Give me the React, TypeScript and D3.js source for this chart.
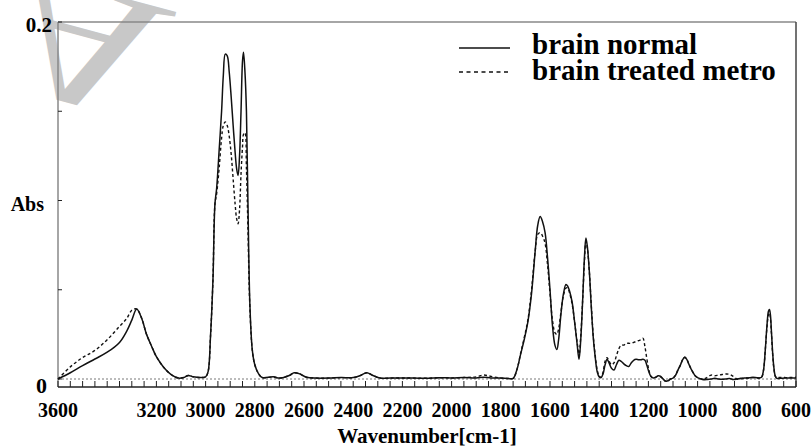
import React from "react";
import * as d3 from "d3";

// Wavenumber grid (cm-1), shared by both spectra
const wavenumbers = [
  3600, 3550, 3500, 3450, 3400, 3350, 3320, 3300, 3280, 3260, 3240, 3220, 3200, 3170, 3140, 3110, 3090, 3070, 3050, 3020,
  3000, 2990, 2980, 2970, 2962, 2955, 2945, 2935, 2928, 2920, 2912, 2904, 2896, 2888, 2880, 2874, 2868, 2862, 2856, 2850,
  2846, 2840, 2834, 2828, 2820, 2810, 2800, 2785, 2770, 2725, 2700, 2660, 2640, 2620, 2590, 2550, 2500, 2450, 2400, 2370,
  2345, 2320, 2290, 2250, 2200, 2150, 2100, 2050, 2000, 1950, 1900, 1870, 1840, 1800, 1770, 1750, 1735, 1720, 1705, 1690,
  1675, 1660, 1650, 1640, 1630, 1620, 1610, 1600, 1590, 1580, 1572, 1565, 1555, 1545, 1535, 1528, 1520, 1510, 1500, 1490,
  1482, 1475, 1467, 1460, 1454, 1448, 1440, 1432, 1424, 1416, 1408, 1400, 1392, 1384, 1376, 1368, 1360, 1350, 1340, 1330,
  1320, 1310, 1300, 1290, 1280, 1270, 1260, 1250, 1240, 1230, 1222, 1214, 1206, 1198, 1190, 1180, 1170, 1160, 1150, 1140,
  1130, 1120, 1110, 1100, 1090, 1080, 1070, 1060, 1052, 1044, 1036, 1028, 1020, 1010, 1000, 990, 975, 960, 945, 930,
  915, 900, 885, 870, 855, 840, 825, 810, 795, 780, 765, 750, 740, 732, 725, 718, 712, 708, 704, 700,
  695, 690, 684, 678, 670, 660, 645, 630, 615, 600,
];

// brain normal (solid)
const brainNormal = [
  0.0, 0.0035, 0.0075, 0.0112, 0.015, 0.0205, 0.027, 0.033, 0.0392, 0.034, 0.025, 0.0185, 0.0125, 0.0065, 0.0025, 0.0005, 0.0008, 0.002, 0.0012, 0.0008,
  0.0012, 0.004, 0.024, 0.056, 0.098, 0.107, 0.128, 0.15, 0.17, 0.182, 0.181, 0.172, 0.158, 0.142, 0.127, 0.118, 0.114, 0.125, 0.15, 0.178,
  0.183, 0.172, 0.15, 0.1, 0.042, 0.016, 0.008, 0.003, 0.0008, 0.0012, 0.0005, 0.002, 0.0035, 0.003, 0.001, 0.0005, 0.0005, 0.0008, 0.0008, 0.002,
  0.0035, 0.002, 0.0005, 0.0005, 0.0006, 0.0005, 0.0004, 0.0007, 0.0006, 0.0008, 0.0006, 0.001, 0.0006, 0.0005, 0.0003, 0.0003, 0.005, 0.0135, 0.022, 0.032,
  0.048, 0.072, 0.086, 0.091, 0.088, 0.082, 0.068, 0.05, 0.03, 0.019, 0.0165, 0.022, 0.037, 0.048, 0.053, 0.052, 0.049, 0.043, 0.032, 0.02,
  0.011, 0.022, 0.045, 0.068, 0.079, 0.074, 0.06, 0.04, 0.023, 0.012, 0.004, 0.0012, 0.0008, 0.003, 0.008, 0.011, 0.009, 0.006, 0.005, 0.008,
  0.0105, 0.0098, 0.0085, 0.0075, 0.007, 0.009, 0.0105, 0.011, 0.0108, 0.0108, 0.011, 0.0105, 0.0075, 0.004, 0.0015, 0.0006, 0.001, 0.0018, 0.0015, 0.0,
  -0.0012, -0.001, 0.0, 0.0005, 0.002, 0.005, 0.0078, 0.011, 0.0122, 0.011, 0.0085, 0.006, 0.004, 0.0018, 0.0008, 0.0002, -0.0004, -0.0003, 0.0, 0.0004,
  0.0, -0.0002, 0.0, 0.0003, -0.0003, 0.0, 0.0004, 0.0005, 0.0006, 0.0008, 0.0008, 0.0006, 0.001, 0.005, 0.016, 0.03, 0.038, 0.039, 0.036, 0.027,
  0.015, 0.0065, 0.0015, 0.0004, 0.0003, 0.0004, 0.0006, 0.0005, 0.0006, 0.0005,
];

// brain treated metro (dashed)
const brainTreated = [
  0.0, 0.0068, 0.012, 0.016, 0.022, 0.0295, 0.034, 0.0385, 0.0392, 0.034, 0.025, 0.0185, 0.0125, 0.0065, 0.0025, 0.0005, 0.0008, 0.002, 0.0012, 0.0008,
  0.0012, 0.004, 0.024, 0.056, 0.098, 0.104, 0.118, 0.135, 0.142, 0.144, 0.142, 0.136, 0.126, 0.112, 0.098, 0.09, 0.087, 0.095, 0.115, 0.13,
  0.137, 0.138, 0.118, 0.085, 0.04, 0.016, 0.008, 0.003, 0.0008, 0.0012, 0.0005, 0.002, 0.0035, 0.003, 0.001, 0.0005, 0.0005, 0.0008, 0.0008, 0.002,
  0.0035, 0.002, 0.0005, 0.0005, 0.0006, 0.0005, 0.0004, 0.0007, 0.0006, 0.0008, 0.0012, 0.0022, 0.0015, 0.0005, 0.0003, 0.0003, 0.005, 0.014, 0.023, 0.033,
  0.05, 0.072, 0.081, 0.082, 0.08, 0.076, 0.064, 0.048, 0.033, 0.026, 0.025, 0.028, 0.038, 0.047, 0.051, 0.051, 0.048, 0.042, 0.032, 0.021,
  0.014, 0.024, 0.045, 0.066, 0.077, 0.073, 0.06, 0.041, 0.024, 0.013, 0.005, 0.0015, 0.001, 0.004, 0.01, 0.012, 0.01, 0.008, 0.009, 0.013,
  0.017, 0.019, 0.019, 0.02, 0.02, 0.02, 0.0205, 0.021, 0.0215, 0.022, 0.0228, 0.018, 0.011, 0.005, 0.0015, 0.0006, 0.001, 0.0018, 0.0012, -0.0002,
  -0.0012, -0.0008, 0.0, 0.0005, 0.002, 0.005, 0.0078, 0.011, 0.0122, 0.011, 0.0085, 0.006, 0.004, 0.0018, 0.0008, 0.0002, 0.0, 0.001, 0.0022, 0.0018,
  0.0022, 0.0025, 0.0028, 0.0026, 0.0015, 0.0, 0.0, 0.0005, 0.0006, 0.0008, 0.0008, 0.0006, 0.001, 0.005, 0.016, 0.029, 0.036, 0.037, 0.034, 0.026,
  0.014, 0.006, 0.0015, 0.0006, 0.0008, 0.0008, 0.0008, 0.0008, 0.0009, 0.001,
];

const xTickLabels = [3600, 3200, 3000, 2800, 2600, 2400, 2200, 2000, 1800, 1600, 1400, 1200, 1000, 800, 600];
const yTickValues = [0, 0.05, 0.1, 0.15, 0.2];
const legendLabels = ["brain normal", "brain treated metro"];

const W = 812;
const H = 447;
const L = 58, R = 796, T = 22, B = 387;
const FONT = "'Liberation Serif', 'Times New Roman', serif";

export default function App() {
  const x = d3.scaleLinear().domain([3600, 600]).range([L, R]);
  const y = d3.scaleLinear().domain([0, 0.2]).range([379, T]);
  const line = d3
    .line<number>()
    .x((_, i) => x(wavenumbers[i]))
    .y((v) => y(v))
    .curve(d3.curveCatmullRom.alpha(0.5));
  const minorTicks = d3.range(600, 3601, 50);

  return (
    <svg width={W} height={H} style={{ position: "absolute", left: 0, top: 0, background: "#fff" }} fontFamily={FONT}>
      <rect x={0} y={0} width={W} height={H} fill="#fff" />
      {/* watermark (behind everything) */}
      <text transform="translate(19,-30) rotate(195) scale(-1.3,1)" fontSize={175} fontFamily={FONT} fill="#c8c8c8">
        A
      </text>
      {/* zero baseline */}
      <line x1={L} x2={R} y1={y(0)} y2={y(0)} stroke="#555" strokeWidth={0.8} strokeDasharray="2,2" />
      {/* frame */}
      <line x1={L} x2={R} y1={T} y2={T} stroke="#888" strokeWidth={1.5} />
      <line x1={L} x2={L} y1={T} y2={B} stroke="#888" strokeWidth={1.5} />
      <line x1={R} x2={R} y1={T} y2={B} stroke="#444" strokeWidth={1.5} />
      <line x1={L} x2={R} y1={B} y2={B} stroke="#222" strokeWidth={1.5} />
      {minorTicks.map((t) => (
        <line key={t} x1={x(t)} x2={x(t)} y1={B} y2={B - 6} stroke="#222" strokeWidth={1} />
      ))}
      {yTickValues.map((t) => (
        <line key={t} x1={L} x2={L + 4} y1={y(t)} y2={y(t)} stroke="#222" strokeWidth={1} />
      ))}
      {/* spectra */}
      <path d={line(brainTreated) || ""} fill="none" stroke="#111" strokeWidth={1.4} strokeDasharray="3,2.5" />
      <path d={line(brainNormal) || ""} fill="none" stroke="#111" strokeWidth={1.5} />
      {/* x tick labels */}
      {xTickLabels.map((t) => (
        <text key={t} x={x(t)} y={417} textAnchor="middle" fontSize={20} fontWeight="bold" fill="#000">
          {t}
        </text>
      ))}
      <text x={427} y={443} textAnchor="middle" fontSize={21} fontWeight="bold" fill="#000">
        Wavenumber[cm-1]
      </text>
      {/* y labels */}
      <text x={52} y={32} textAnchor="end" fontSize={21} fontWeight="bold" fill="#000">0.2</text>
      <text x={44} y={211} textAnchor="end" fontSize={20} fontWeight="bold" fill="#000">Abs</text>
      <text x={47} y={393} textAnchor="end" fontSize={22} fontWeight="bold" fill="#000">0</text>
      {/* legend */}
      <line x1={459} x2={510} y1={48} y2={48} stroke="#111" strokeWidth={1.5} />
      <line x1={459} x2={510} y1={72} y2={72} stroke="#111" strokeWidth={1.5} strokeDasharray="4,3.5" />
      <text x={532} y={54} fontSize={29} fontWeight="bold" fill="#000">{legendLabels[0]}</text>
      <text x={532} y={80} fontSize={29} fontWeight="bold" fill="#000">{legendLabels[1]}</text>
    </svg>
  );
}
